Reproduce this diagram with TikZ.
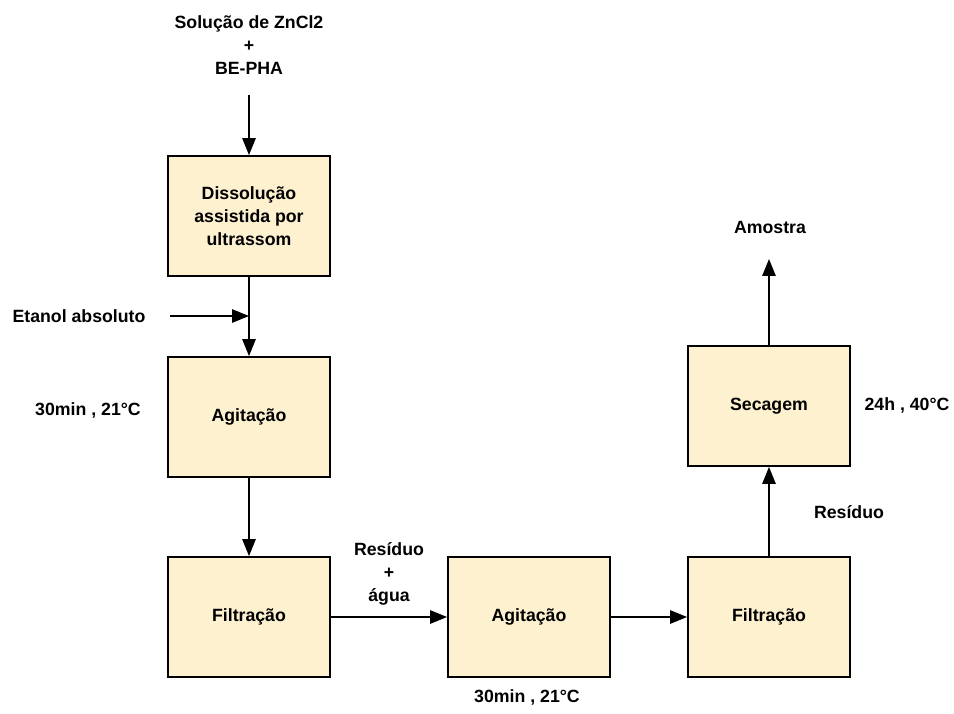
\documentclass[tikz,border=0pt]{standalone}
\usepackage{fontspec}
\setmainfont{Liberation Sans}
\usetikzlibrary{arrows.meta}
\definecolor{boxfill}{RGB}{253,241,207}
\tikzset{
  stage/.style={draw=black,line width=1.3pt,fill=boxfill,minimum width=4.05cm,minimum height=3cm,
    align=center,font=\fontsize{12.6}{16.5}\selectfont\bfseries},
  lbl/.style={align=center,font=\fontsize{12.6}{16.5}\selectfont\bfseries},
  flow/.style={line width=1pt,-{Triangle[length=12pt,width=9.5pt]}}
}
\begin{document}
\begin{tikzpicture}[x=0.025cm,y=-0.025cm]
\useasboundingbox (0,0) rectangle (954,713);
% process boxes
\node[stage] (dissol) at (249,216) {Dissolução\\assistida por\\ultrassom};
\node[stage] (agit1) at (249,417) {Agitação};
\node[stage] (filt1) at (249,617) {Filtração};
\node[stage] (agit2) at (529,617) {Agitação};
\node[stage] (filt2) at (769,617) {Filtração};
\node[stage] (sec) at (769,406) {Secagem};
% labels
\node[lbl] (feed) at (249,45) {Solução de ZnCl2\\+\\BE-PHA};
\node[lbl] (etanol) at (79,316) {Etanol absoluto};
\node[lbl] (cond1) at (88,410) {30min , 21°C};
\node[lbl] (cond2) at (527,697) {30min , 21°C};
\node[lbl] (cond3) at (907,405) {24h , 40°C};
\node[lbl] (resagua) at (389,574) {Resíduo\\+\\água};
\node[lbl] (res) at (849,512) {Resíduo};
\node[lbl] (amostra) at (770,227) {Amostra};
% free ends
\coordinate (feedend) at (249,95);
\coordinate (etin) at (170,316);
\coordinate (join) at (dissol.south |- etin);
\coordinate (out) at (769,259);
% connectors
\draw[flow] (feedend) -- (dissol.north);
\draw[flow] (dissol.south) -- (agit1.north);
\draw[flow] (etin) -- (join);
\draw[flow] (agit1.south) -- (filt1.north);
\draw[flow] (filt1.east) -- (agit2.west);
\draw[flow] (agit2.east) -- (filt2.west);
\draw[flow] (filt2.north) -- (sec.south);
\draw[flow] (sec.north) -- (out);
\end{tikzpicture}
\end{document}
